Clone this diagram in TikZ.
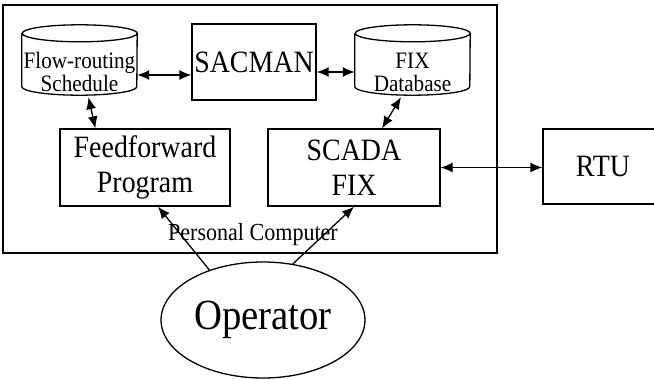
\documentclass[tikz,border=0pt]{standalone}
\usepackage{fontspec}
\setmainfont[FakeStretch=0.9]{Liberation Serif}
\usepackage{tikz}
\usetikzlibrary{arrows.meta,positioning,shapes.geometric}
\tikzset{
  blk/.style={
    rectangle, draw, line width=1.3pt, align=center, inner sep=2pt,
    font=\fontsize{31}{35}\selectfont
  },
  db/.style={
    rectangle, inner sep=0pt, minimum width=115pt, minimum height=70pt
  },
  dbtxt/.style={
    align=center, inner sep=0pt, yshift=-12pt,
    font=\fontsize{23.5}{23}\selectfont
  },
  edge/.style={<->, line width=1.3pt}
}
\begin{document}
\begin{tikzpicture}[x=1pt, y=-1pt, >={Latex[length=12pt,width=10pt]}]
\useasboundingbox (0,0) rectangle (654,380);
\node[draw, line width=1.3pt, minimum width=494pt, minimum height=248pt] (pc) at (250,129) {};
\node[font=\fontsize{24.5}{26}\selectfont] (pclabel) at (253,235) {Personal Computer};
\node[db, label={[dbtxt]center:{Flow-routing\\Schedule}}] (sched) at (79.5,60) {};
\node[blk, minimum width=124pt, minimum height=76pt] (sacman) at (254,62) {SACMAN};
\node[db, label={[dbtxt]center:{FIX\\Database}}] (fixdb) at (412.5,60) {};
\node[blk, minimum width=170pt, minimum height=77pt] (ff) at (145,167.5) {Feedforward\\Program};
\node[blk, minimum width=172pt, minimum height=77pt] (scada) at (354,167.5) {SCADA\\FIX};
\node[blk, minimum width=120pt, minimum height=75pt] (rtu) at (603,166.5) {RTU};
\node[ellipse, draw, line width=1.3pt, minimum width=200pt, minimum height=116pt,
  font=\fontsize{43}{48}\selectfont] (oper) at (263,320) {Operator};
% drums for the two stores
\foreach \c in {sched,fixdb}
  \draw[line width=1.3pt] ([yshift=-8.5pt]\c.north west) -- ([yshift=8.5pt]\c.south west)
    arc[start angle=180, end angle=360, x radius=57.5pt, y radius=8.5pt]
    -- ([yshift=-8.5pt]\c.north east)
    arc[start angle=0, end angle=360, x radius=57.5pt, y radius=8.5pt];
% links inside the computer
\draw[edge] ([yshift=-15pt]sched.east) -- ([yshift=-15pt]sched.east -| sacman.west);
\draw[edge] ([yshift=-10pt]sacman.east) -- ([yshift=-10pt]sacman.east -| fixdb.west);
\draw[edge] ([xshift=9pt,yshift=-2pt]sched.south) -- ([xshift=36pt]ff.north west);
\draw[edge] ([xshift=-11.5pt,yshift=-2pt]fixdb.south) -- ([xshift=28pt]scada.north);
\draw[edge] (scada.east) -- (scada.east -| rtu.west);
% operator
\draw[->, line width=1.3pt] (oper.137) -- ([xshift=13pt]ff.south);
\draw[->, line width=1.3pt] (oper.62) -- (scada.south);
\end{tikzpicture}
\end{document}
